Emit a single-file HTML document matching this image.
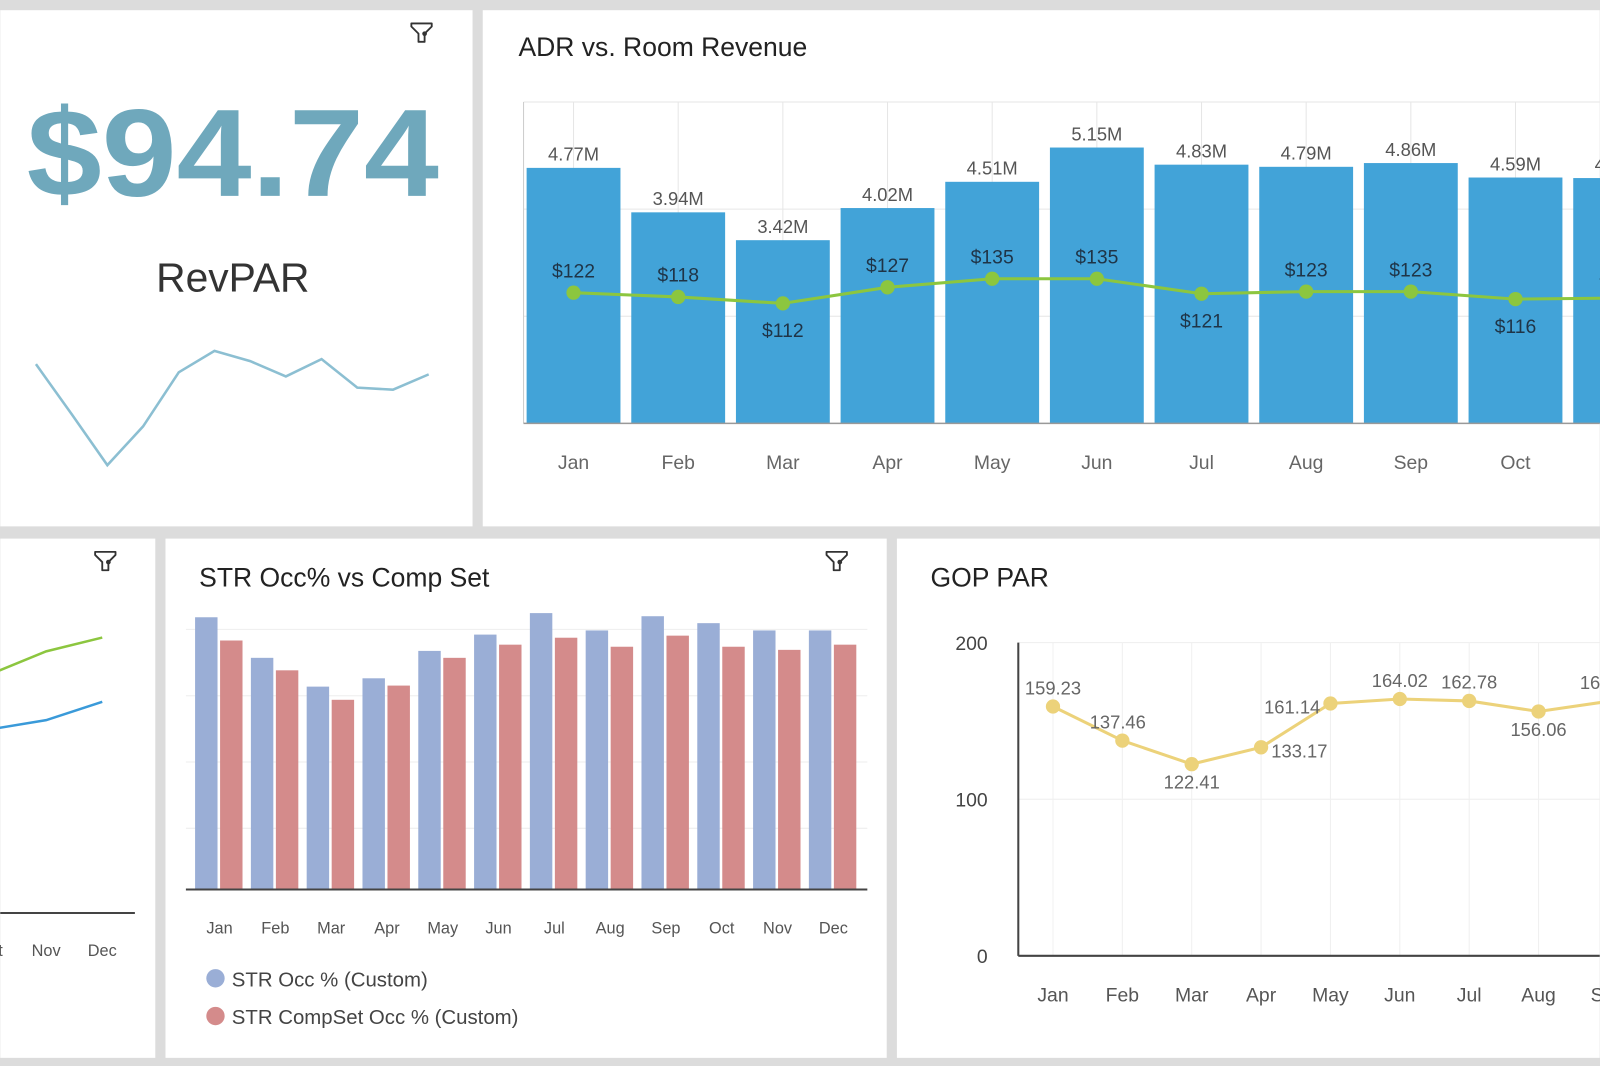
<!DOCTYPE html>
<html><head><meta charset="utf-8"><style>
html,body{margin:0;padding:0;background:#dcdcdc;}
svg{display:block;font-family:"Liberation Sans",sans-serif;}
</style></head><body>
<svg id="s" width="1600" height="1066" viewBox="0 0 1568 1045">
<rect x="0" y="0" width="1568" height="1045" fill="#dcdcdc"/>
<rect x="0" y="10" width="463" height="506" fill="#fff"/>
<rect x="473" y="10" width="1095" height="506" fill="#fff"/>
<rect x="0" y="528" width="152" height="509" fill="#fff"/>
<rect x="162" y="528" width="707" height="509" fill="#fff"/>
<rect x="879" y="528" width="689" height="509" fill="#fff"/>
<g id="filters"></g>
<text x="26" y="192" textLength="404" lengthAdjust="spacingAndGlyphs" font-size="122" font-weight="bold" fill="#6fa8bc">$94.74</text>
<text x="228" y="286" text-anchor="middle" font-size="40" fill="#333">RevPAR</text>
<polyline id="spark" fill="none" stroke="#8cbfd2" stroke-width="2.5"/>
<text x="508" y="55" font-size="26" fill="#222">ADR vs. Room Revenue</text>
<g id="adr"></g>
<text x="195" y="575" font-size="26" fill="#222">STR Occ% vs Comp Set</text>
<g id="str"></g>
<circle cx="211" cy="959" r="9" fill="#9aaed6"/>
<text x="227" y="967" font-size="20" fill="#444">STR Occ % (Custom)</text>
<circle cx="211" cy="996" r="9" fill="#d48b8b"/>
<text x="227" y="1004" font-size="20" fill="#444">STR CompSet Occ % (Custom)</text>
<text x="912" y="575" font-size="26" fill="#222">GOP PAR</text>
<g id="gop"></g>
<g id="trend"></g>
</svg>
<script>
const sparkValues=[99,50,0,38,91,112,102,87,104,76,74,89];
const months=["Jan","Feb","Mar","Apr","May","Jun","Jul","Aug","Sep","Oct","Nov","Dec"];
const revenue=[4.77,3.94,3.42,4.02,4.51,5.15,4.83,4.79,4.86,4.59,4.58,4.7];
const revenueLabels=["4.77M","3.94M","3.42M","4.02M","4.51M","5.15M","4.83M","4.79M","4.86M","4.59M","4.58M","4.70M"];
const adr=[122,118,112,127,135,135,121,123,123,116,117,120];
const adrLabelBelow=[false,false,true,false,false,false,true,false,false,true,false,false];
const strOcc=[78.5,66.8,58.5,60.9,68.8,73.5,79.7,74.7,78.8,76.8,74.7,74.7];
const strComp=[71.8,63.2,54.7,58.8,66.8,70.6,72.6,70.0,73.2,70.0,69.1,70.6];
const gop=[159.23,137.46,122.41,133.17,161.14,164.02,162.78,156.06,162.5];
const gopLabelPos=["a","ar","b","br","al","a","a","b","a"];
const gopTicks=[0,100,200];
const trendGreen=[52,57,60];
const trendBlue=[40,42,46];
const trendLabels=["Oct","Nov","Dec"];

const NS="http://www.w3.org/2000/svg";
function mk(p,tag,attrs,txt){const e=document.createElementNS(NS,tag);for(const k in attrs)e.setAttribute(k,attrs[k]);if(txt!==undefined)e.textContent=txt;p.appendChild(e);return e;}

const fg=document.getElementById('filters');
[[413,32],[103,550],[820,550]].forEach((p,i)=>{
  const g=mk(fg,'g',{transform:`translate(${p[0]},${p[1]})`});
  
  
  mk(g,'path',{d:'M-10,-9 L10,-9 L10,-6 L3,1 L3,9 L-3,9 L-3,1 L-10,-6 Z',fill:'none',stroke:'#333','stroke-width':1.8,'stroke-linejoin':'round'});
  mk(g,'circle',{cx:3,cy:1,r:2.3,fill:'#333'});
});

const sx=i=>35+i*35, sy=v=>456-v;
document.getElementById('spark').setAttribute('points',sparkValues.map((v,i)=>sx(i)+','+sy(v)).join(' '));

const ag=document.getElementById('adr');
const aBase=415,aTop=100,aX0=513;
const ax=i=>562+i*102.6;
const ayRev=v=>aBase-v*(aBase-aTop)/6;
const ayAdr=v=>aBase-v*(aBase-aTop)/300;
[0,2,4,6].forEach(t=>{const l=mk(ag,'line',{x1:aX0,x2:1568,y1:ayRev(t),y2:ayRev(t),stroke:'#e6e6e6','stroke-width':1});});
months.forEach((m,i)=>{const l=mk(ag,'line',{x1:ax(i),x2:ax(i),y1:aTop,y2:aBase,stroke:'#e6e6e6'});});
mk(ag,'line',{x1:aX0,x2:aX0,y1:aTop,y2:aBase,stroke:'#ccc'});
revenue.forEach((v,i)=>{
  const r=mk(ag,'rect',{x:ax(i)-46,y:ayRev(v),width:92,height:aBase-ayRev(v),fill:'#42a3d8'});
  
  
  const t=mk(ag,'text',{x:ax(i),y:ayRev(v)-7,'text-anchor':'middle','font-size':18,fill:'#555'},revenueLabels[i]);
  
  
  const xl=mk(ag,'text',{x:ax(i),y:460,'text-anchor':'middle','font-size':19,fill:'#666'},months[i]);
  
  
});
mk(ag,'line',{x1:aX0,x2:1568,y1:aBase,y2:aBase,stroke:'#999','stroke-width':1.5});
const pl=mk(ag,'polyline',{points:adr.map((v,i)=>ax(i)+','+ayAdr(v)).join(' '),fill:'none',stroke:'#8cc63f','stroke-width':3});


adr.forEach((v,i)=>{
  const c=mk(ag,'circle',{cx:ax(i),cy:ayAdr(v),r:7,fill:'#8cc63f'});
  
  
  const t=mk(ag,'text',{x:ax(i),y:ayAdr(v)+(adrLabelBelow[i]?33:-15),'text-anchor':'middle','font-size':19,fill:'#1f3447'},'$'+v);
  
  
});

const sg=document.getElementById('str');
const sBase=872;
const stx=i=>215+i*54.7;
const sty=v=>sBase-v*3.4;
[617,682,747,812].forEach(y=>{const l=mk(sg,'line',{x1:182,x2:850,y1:y,y2:y,stroke:'#eee'});});
months.forEach((m,i)=>{
  const b1=mk(sg,'rect',{x:stx(i)-24,y:sty(strOcc[i]),width:22,height:sBase-sty(strOcc[i]),fill:'#9aaed6'});
  
  
  const b2=mk(sg,'rect',{x:stx(i)+0.5,y:sty(strComp[i]),width:22,height:sBase-sty(strComp[i]),fill:'#d48b8b'});
  
  
  const t=mk(sg,'text',{x:stx(i),y:915,'text-anchor':'middle','font-size':16,fill:'#555'},m);
  
  
});
mk(sg,'line',{x1:182,x2:850,y1:sBase,y2:sBase,stroke:'#444','stroke-width':2});

const gg=document.getElementById('gop');
const gBase=937,gTop=630;
const gx=i=>1032+i*68;
const gy=v=>gBase-v*(gBase-gTop)/200;
gopTicks.forEach(t=>{
  const l=mk(gg,'line',{x1:998,x2:1568,y1:gy(t),y2:gy(t),stroke:'#eee'});
  
  
  const tx=mk(gg,'text',{x:968,y:gy(t)+7,'text-anchor':'end','font-size':19,fill:'#444'},t);
  
  
});
months.forEach((m,i)=>{
  const l=mk(gg,'line',{x1:gx(i),x2:gx(i),y1:gTop,y2:gBase,stroke:'#f0f0f0'});
  
  
  const t=mk(gg,'text',{x:gx(i),y:982,'text-anchor':'middle','font-size':19,fill:'#555'},m);
  
  
});
mk(gg,'line',{x1:998,x2:998,y1:gTop,y2:gBase,stroke:'#444','stroke-width':2});
mk(gg,'line',{x1:998,x2:1568,y1:gBase,y2:gBase,stroke:'#444','stroke-width':2});
const gl=mk(gg,'polyline',{points:gop.map((v,i)=>gx(i)+','+gy(v)).join(' '),fill:'none',stroke:'#ecd27a','stroke-width':3});


gop.forEach((v,i)=>{
  const c=mk(gg,'circle',{cx:gx(i),cy:gy(v),r:7,fill:'#ecd27a'});
  
  
  const p=gopLabelPos[i];
  let dx=0,dy=-12,anc='middle';
  if(p==='b')dy=24;
  if(p==='ar'){dx=-32;dy=-12;anc='start';}
  if(p==='br'){dx=10;dy=10;anc='start';}
  if(p==='al'){dx=-10;dy=10;anc='end';}
  const t=mk(gg,'text',{x:gx(i)+dx,y:gy(v)+dy,'text-anchor':anc,'font-size':18,fill:'#666'},v.toFixed(2));
  
  
});

const tg=document.getElementById('trend');
const tx=i=>-10+i*55;
const ty=v=>895-v*4.5;
const g1=mk(tg,'polyline',{points:trendGreen.map((v,i)=>tx(i)+','+ty(v)).join(' '),fill:'none',stroke:'#8cc63f','stroke-width':2.5});


const b1=mk(tg,'polyline',{points:trendBlue.map((v,i)=>tx(i)+','+ty(v)).join(' '),fill:'none',stroke:'#3a9ad9','stroke-width':2.5});


mk(tg,'line',{x1:0,x2:132,y1:895,y2:895,stroke:'#444','stroke-width':2});
trendLabels.forEach((m,i)=>{
  const t=mk(tg,'text',{x:tx(i),y:937,'text-anchor':'middle','font-size':16,fill:'#555'},m);
  
  
});
</script>
</body></html>
